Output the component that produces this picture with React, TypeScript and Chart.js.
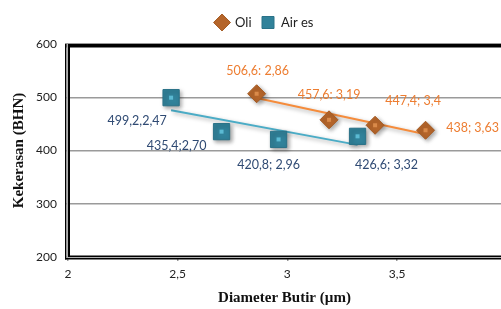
import React, { useEffect, useRef } from 'react';
import { Chart, registerables } from 'chart.js';

Chart.register(...registerables);

// ---- data ----
const oliDiameter = [2.86, 3.19, 3.4, 3.63];
const oliHardness = [506.6, 457.6, 447.4, 438];
const oliLabels = ['506,6: 2,86', '457,6: 3,19', '447,4; 3,4', '438; 3,63'];

const airDiameter = [2.47, 2.7, 2.96, 3.32];
const airHardness = [499.2, 435.4, 420.8, 426.6];
const airLabels = ['499,2,2,47', '435,4;2,70', '420,8; 2,96', '426,6; 3,32'];

const xTicks = [2, 2.5, 3, 3.5];
const yTicks = [200, 300, 400, 500, 600];

// ---- label offsets (px, style only) ----
const oliLabelOffsets = [[1, -23], [0, -25], [38, -24], [47, -2]];
const airLabelOffsets = [[-34, 23], [-45, 14], [-10, 26], [29, 29]];

// target plot-area edges (layout)
const AREA = { left: 68, top: 44, right: 501, bottom: 257 };

function trend(xs: number[], ys: number[]) {
  const n = xs.length;
  const mx = xs.reduce((a, b) => a + b, 0) / n;
  const my = ys.reduce((a, b) => a + b, 0) / n;
  let sxy = 0, sxx = 0;
  for (let i = 0; i < n; i++) {
    sxy += (xs[i] - mx) * (ys[i] - my);
    sxx += (xs[i] - mx) * (xs[i] - mx);
  }
  const m = sxy / sxx;
  const x0 = Math.min(...xs), x1 = Math.max(...xs);
  return [{ x: x0, y: my + m * (x0 - mx) }, { x: x1, y: my + m * (x1 - mx) }];
}

const fmt = (v: number) => String(v).replace('.', ',');

export default function App() {
  const ref = useRef<HTMLCanvasElement>(null);
  useEffect(() => {
    document.body.style.margin = '0';
    const canvas = ref.current!;
    const shadowPlugin = {
      id: 'shadow',
      beforeDatasetDraw(chart: any) {
        const ctx = chart.ctx;
        ctx.save();
        ctx.shadowColor = 'rgba(0,0,0,0.35)';
        ctx.shadowBlur = 4;
        ctx.shadowOffsetX = 2;
        ctx.shadowOffsetY = 2;
      },
      afterDatasetDraw(chart: any) {
        chart.ctx.restore();
      },
    };
    const framePlugin = {
      id: 'frame',
      afterLayout(chart: any) {
        const lg = chart.legend;
        if (lg) {
          const dy = lg.top - 6;
          lg.left += 14;
          lg.right += 14;
          lg.top -= dy;
          lg.bottom -= dy;
        }
      },
      beforeDatasetsDraw(chart: any) {
        const ctx = chart.ctx;
        const a = chart.chartArea;
        ctx.save();
        ctx.fillStyle = '#9a9a9a';
        ctx.fillRect(a.left - 2, a.top - 1, a.right - a.left + 2, 1);
        ctx.fillStyle = '#000';
        ctx.fillRect(a.left - 2, a.top, a.right - a.left + 2, 3.5);
        // left double line
        ctx.fillStyle = '#000';
        ctx.fillRect(a.left - 3, a.top, 1.5, a.bottom - a.top + 2.5);
        ctx.fillStyle = '#b0b0b0';
        ctx.fillRect(a.left - 1.5, a.top, 1.5, a.bottom - a.top + 1);
        ctx.fillStyle = '#000';
        ctx.fillRect(a.left, a.top, 2, a.bottom - a.top);
        // bottom double line
        ctx.fillStyle = '#000';
        ctx.fillRect(a.left, a.bottom - 1.5, a.right - a.left, 1.5);
        ctx.fillStyle = '#b0b0b0';
        ctx.fillRect(a.left, a.bottom, a.right - a.left, 1);
        ctx.fillStyle = '#000';
        ctx.fillRect(a.left - 3, a.bottom + 1, a.right - a.left + 3, 1.5);
        ctx.restore();
      },
      afterDatasetsDraw(chart: any) {
        const ctx = chart.ctx;
        ctx.save();
        const sets = [
          { i: 0, labels: oliLabels, off: oliLabelOffsets, color: '#ed7d31', inner: '#d98a4a' },
          { i: 1, labels: airLabels, off: airLabelOffsets, color: '#2f4a73', inner: '#5bbad3' },
        ];
        for (const s of sets) {
          const meta = chart.getDatasetMeta(s.i);
          meta.data.forEach((el: any, k: number) => {
            ctx.fillStyle = s.inner;
            ctx.fillRect(el.x - 2, el.y - 2, 4, 4);
            ctx.fillStyle = s.color;
            ctx.font = '12.5px Lato';
            ctx.textAlign = 'center';
            ctx.textBaseline = 'middle';
            ctx.fillText(s.labels[k], el.x + s.off[k][0], el.y + s.off[k][1]);
          });
        }
        ctx.restore();
      },
    };

    const padding = { top: 0, left: 0, right: 0, bottom: 0 };

    const chart = new Chart(canvas, {
      type: 'scatter',
      data: {
        datasets: [
          {
            label: 'Oli',
            data: oliDiameter.map((x, i) => ({ x, y: oliHardness[i] })),
            pointStyle: 'rectRot',
            pointRadius: 9,
            backgroundColor: '#b5652a',
            borderColor: '#a45a22',
            borderWidth: 1,
            order: 1,
          },
          {
            label: 'Air es',
            data: airDiameter.map((x, i) => ({ x, y: airHardness[i] })),
            pointStyle: 'rect',
            pointRadius: 11.5,
            backgroundColor: '#31829a',
            borderColor: '#2a7288',
            borderWidth: 1,
            order: 1,
          },
          {
            label: 'trend-oli',
            type: 'line',
            data: trend(oliDiameter, oliHardness),
            borderColor: '#f58c3c',
            borderWidth: 2,
            pointRadius: 0,
            showLine: true,
            fill: false,
            order: 2,
          } as any,
          {
            label: 'trend-air',
            type: 'line',
            data: trend(airDiameter, airHardness),
            borderColor: '#4bacc6',
            borderWidth: 2,
            pointRadius: 0,
            showLine: true,
            fill: false,
            order: 2,
          } as any,
        ],
      },
      options: {
        animation: false,
        responsive: false,
        maintainAspectRatio: false,
        layout: { padding, autoPadding: false },
        plugins: {
          tooltip: { enabled: false },
          legend: {
            display: true,
            position: 'top',
            labels: {
              usePointStyle: true,
              boxHeight: 12,
              padding: 10,
              color: '#222',
              font: { family: 'Lato', size: 13 },
              filter: (item: any) => item.datasetIndex < 2,
            },
          },
        },
        scales: {
          x: {
            type: 'linear',
            min: 2,
            max: 3.974,
            afterBuildTicks: (s: any) => {
              s.ticks = xTicks.map((v) => ({ value: v }));
            },
            afterFit: (s: any) => {
              s.height = 52;
              s.paddingRight = 0;
              s.paddingLeft = 0;
            },
            border: { display: false },
            grid: { drawOnChartArea: false, drawTicks: true, tickLength: 4, tickColor: '#999', lineWidth: 1.5 },
            ticks: {
              color: '#222',
              padding: 6,
              font: { family: 'Lato', size: 12 },
              maxRotation: 0,
              callback: (v: any) => fmt(Number(v)),
            },
            title: {
              display: true,
              text: 'Diameter Butir (µm)',
              color: '#111',
              font: { family: 'Liberation Serif', size: 15, weight: 'bold' },
              padding: { top: 0, bottom: 2 },
            },
          },
          y: {
            type: 'linear',
            min: 200,
            max: 600,
            afterBuildTicks: (s: any) => {
              s.ticks = yTicks.map((v) => ({ value: v }));
            },
            afterFit: (s: any) => {
              s.width = 68;
            },
            border: { display: false },
            grid: { color: '#9a9a9a', lineWidth: 1.5, drawTicks: true, tickLength: 3, tickColor: '#999' },
            ticks: {
              color: '#222',
              padding: 8,
              font: { family: 'Lato', size: 12 },
              callback: (v: any) => fmt(Number(v)),
            },
            title: {
              display: true,
              text: 'Kekerasan (BHN)',
              color: '#111',
              font: { family: 'Liberation Serif', size: 15, weight: 'bold' },
              padding: { top: 10, bottom: 0 },
            },
          },
        },
      },
      plugins: [shadowPlugin, framePlugin],
    });
    // nudge layout padding so the plot area lands on the reference frame
    for (let k = 0; k < 2; k++) {
      const a = chart.chartArea;
      padding.right = Math.max(0, padding.right + (a.right - AREA.right) * -1 * -1);
      padding.top = Math.max(0, padding.top + (AREA.top - a.top));
      padding.bottom = Math.max(0, padding.bottom + (a.bottom - AREA.bottom));
      chart.options.layout!.padding = { ...padding };
      chart.update();
    }
    return () => chart.destroy();
  }, []);
  return <canvas ref={ref} width={501} height={309} style={{ display: 'block', width: 501, height: 309 }} />;
}
